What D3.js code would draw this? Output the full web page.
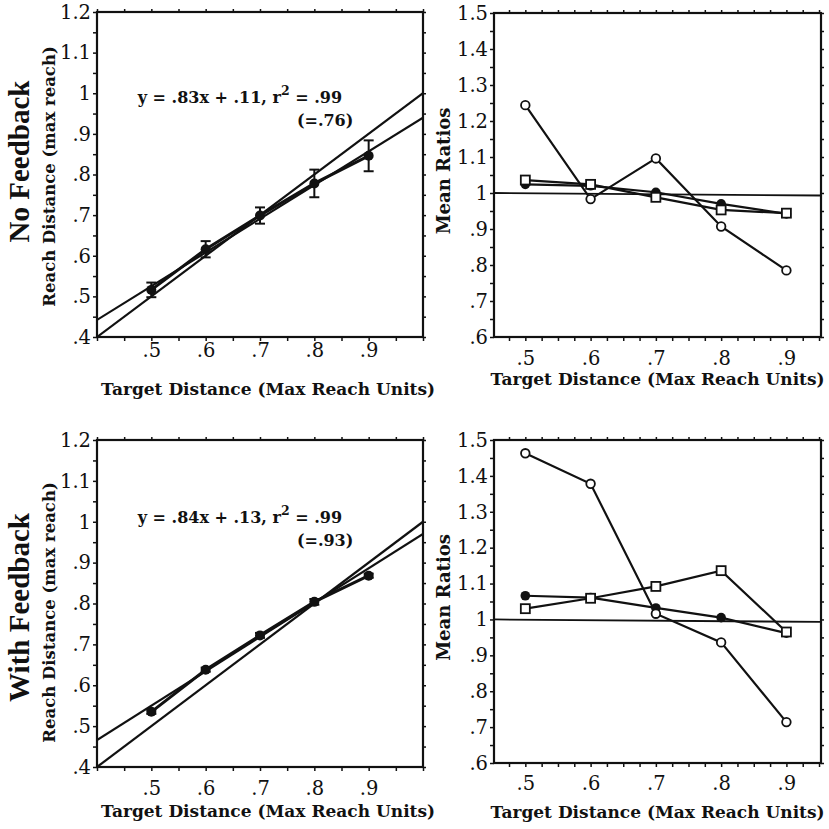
<!DOCTYPE html>
<html>
<head>
<meta charset="utf-8">
<script src="https://cdn.jsdelivr.net/npm/d3@7"></script>
<style>
  body { margin: 0; background: #fff; }
  svg { display: block; }
  text { font-family: "DejaVu Serif", "Liberation Serif", serif; fill: #111; }
</style>
</head>
<body>
<svg width="829" height="829"></svg>
<script>
// target distances (max reach units)
const targets = [0.5, 0.6, 0.7, 0.8, 0.9];

// reach distance, no feedback / with feedback
const reachNoFb = [0.516, 0.616, 0.699, 0.778, 0.846];
const errNoFb   = [0.018, 0.02, 0.02, 0.034, 0.038];
const reachFb   = [0.535, 0.638, 0.722, 0.804, 0.868];
const errFb     = [0.005, 0.005, 0.006, 0.007, 0.005];

// regression fits [slope, intercept]
const fitNoFb = [0.83, 0.11];
const fitFb   = [0.84, 0.13];

// mean ratios
const openNoFb   = [1.244, 0.983, 1.096, 0.907, 0.785];
const filledNoFb = [1.024, 1.02, 1.002, 0.97, 0.942];
const squareNoFb = [1.036, 1.024, 0.988, 0.953, 0.944];
const openFb     = [1.463, 1.378, 1.016, 0.936, 0.714];
const filledFb   = [1.066, 1.061, 1.032, 1.005, 0.962];
const squareFb   = [1.030, 1.059, 1.092, 1.136, 0.965];
const refLine    = [1.0, 0.993];

const fitTicksX = [0.5, 0.6, 0.7, 0.8, 0.9];
const fitTicksY = [0.4, 0.5, 0.6, 0.7, 0.8, 0.9, 1.0, 1.1, 1.2];
const ratioTicksY = [0.6, 0.7, 0.8, 0.9, 1.0, 1.1, 1.2, 1.3, 1.4, 1.5];

const svg = d3.select("svg");
const fmt = d => { let s = d3.format(".1f")(d); if (s.endsWith(".0")) s = s.slice(0, -2); return s.replace(/^0\./, "."); };
const fmt2 = v => d3.format(".2f")(v).replace(/^0\./, ".");
const isMajor = (d, list) => list.some(v => Math.abs(v - d) < 1e-6);

function frameAxes(g, x, y, o) {
  const w = x.range()[1] - x.range()[0], h = y.range()[0] - y.range()[1];
  const minorX = d3.range(Math.ceil(x.domain()[0] / o.stepX - 1e-6), Math.floor(x.domain()[1] / o.stepX + 1e-6) + 1).map(i => i * o.stepX);
  const minorY = d3.range(Math.round(y.domain()[0] / 0.05), Math.round(y.domain()[1] / 0.05) + 1).map(i => i * 0.05);

  g.append("g").attr("transform", `translate(0,${h})`)
    .call(d3.axisBottom(x).tickValues(minorX).tickSize(4).tickPadding(o.padX)
      .tickFormat(d => isMajor(d, o.ticksX) ? fmt(d) : ""));
  g.append("g")
    .call(d3.axisLeft(y).tickValues(minorY).tickSize(4).tickPadding(2)
      .tickFormat(d => isMajor(d, o.ticksY) ? fmt(d) : ""));
  g.append("g").call(d3.axisTop(x).tickValues(minorX).tickSize(3).tickFormat(""));
  g.append("g").attr("transform", `translate(${w},0)`).call(d3.axisRight(y).tickValues(minorY).tickSize(3).tickFormat(""));

  g.selectAll(".domain").remove();
  g.selectAll(".tick line").attr("stroke", "#111").attr("stroke-width", 1.5);
  g.selectAll(".tick text").style("font-size", "19.5px").attr("fill", "#111");

  g.append("rect").attr("width", w).attr("height", h)
    .attr("fill", "none").attr("stroke", "#111").attr("stroke-width", 2.2);

  g.append("text")
    .attr("x", w / 2 + o.titleDx).attr("y", h + o.titleY)
    .attr("text-anchor", "middle").style("font-size", "17px").style("font-weight", "bold")
    .text("Target Distance (Max Reach Units)");
}

function fitPanel(left, top, h, reach, err, fit, label, r2adj, lay) {
  const w = 326;
  const x = d3.scaleLinear().domain([0.4, 1.0]).range([0, w]);
  const y = d3.scaleLinear().domain([0.4, 1.2]).range([h, 0]);
  const g = svg.append("g").attr("transform", `translate(${left},${top})`);
  const clipId = "clip" + top;
  g.append("clipPath").attr("id", clipId).append("rect").attr("width", w).attr("height", h);

  frameAxes(g, x, y, { stepX: 0.05, ticksX: fitTicksX, ticksY: fitTicksY, padX: lay.padX, titleDx: 8, titleY: lay.titleY });

  const line = d3.line().x(d => x(d[0])).y(d => y(d[1]));
  const plot = g.append("g").attr("clip-path", `url(#${clipId})`);
  // identity and regression lines
  plot.append("path").datum([[0.4, 0.4], [1.0, 1.0]]).attr("d", line)
    .attr("fill", "none").attr("stroke", "#111").attr("stroke-width", 2.2);
  plot.append("path").datum([0.4, 1.0].map(v => [v, fit[0] * v + fit[1]])).attr("d", line)
    .attr("fill", "none").attr("stroke", "#111").attr("stroke-width", 2.2);
  // data
  const pts = targets.map((t, i) => [t, reach[i]]);
  plot.append("path").datum(pts).attr("d", line)
    .attr("fill", "none").attr("stroke", "#111").attr("stroke-width", 3);
  const eb = plot.selectAll(".eb").data(targets).enter().append("g");
  eb.append("line").attr("x1", d => x(d)).attr("x2", d => x(d))
    .attr("y1", (d, i) => y(reach[i] - err[i])).attr("y2", (d, i) => y(reach[i] + err[i]))
    .attr("stroke", "#111").attr("stroke-width", 2);
  [-1, 1].forEach(s => eb.append("line")
    .attr("x1", d => x(d) - 5).attr("x2", d => x(d) + 5)
    .attr("y1", (d, i) => y(reach[i] + s * err[i])).attr("y2", (d, i) => y(reach[i] + s * err[i]))
    .attr("stroke", "#111").attr("stroke-width", 2));
  plot.selectAll(".pt").data(pts).enter().append("circle")
    .attr("cx", d => x(d[0])).attr("cy", d => y(d[1])).attr("r", 5).attr("fill", "#111");

  const eq = g.append("text").attr("x", x(0.475)).attr("y", lay.eqY)
    .style("font-size", "16px").style("font-weight", "bold");
  eq.append("tspan").text(`y = ${fmt2(fit[0])}x + ${fmt2(fit[1])}, r`);
  eq.append("tspan").attr("dy", -8).style("font-size", "12.5px").text("2");
  eq.append("tspan").attr("dy", 8).text(" = .99");
  g.append("text").attr("x", x(0.768)).attr("y", lay.eqY + 23)
    .style("font-size", "16px").style("font-weight", "bold").text(`(=${r2adj})`);

  g.append("text").attr("transform", `translate(-42,${h / 2 + lay.subDy}) rotate(-90)`)
    .attr("text-anchor", "middle").style("font-size", "16.5px").style("font-weight", "bold")
    .text("Reach Distance (max reach)");
  g.append("text").attr("transform", `translate(-68,${h / 2 + lay.labelDy}) rotate(-90)`)
    .attr("text-anchor", "middle")
    .style("font-family", "'Liberation Serif', serif")
    .style("font-size", "29px").style("font-weight", "bold")
    .text(label);
}

function ratioPanel(left, top, h, open, filled, square, padX, titleY) {
  const w = 327;
  const x = d3.scaleLinear().domain([0.452, 0.953]).range([0, w]);
  const y = d3.scaleLinear().domain([0.6, 1.5]).range([h, 0]);
  const g = svg.append("g").attr("transform", `translate(${left},${top})`);

  frameAxes(g, x, y, { stepX: 0.025, ticksX: fitTicksX, ticksY: ratioTicksY, padX: padX, titleDx: 0, titleY: titleY });

  const line = d3.line().x(d => x(d[0])).y(d => y(d[1]));
  g.append("path").datum([[x.domain()[0], refLine[0]], [x.domain()[1], refLine[1]]]).attr("d", line)
    .attr("fill", "none").attr("stroke", "#111").attr("stroke-width", 1.8);

  [filled, open, square].forEach(vals => {
    g.append("path").datum(targets.map((t, i) => [t, vals[i]])).attr("d", line)
      .attr("fill", "none").attr("stroke", "#111").attr("stroke-width", 2.2);
  });
  g.selectAll(".f").data(filled).enter().append("circle")
    .attr("cx", (d, i) => x(targets[i])).attr("cy", d => y(d)).attr("r", 4.8).attr("fill", "#111");
  g.selectAll(".o").data(open).enter().append("circle")
    .attr("cx", (d, i) => x(targets[i])).attr("cy", d => y(d)).attr("r", 4.3)
    .attr("fill", "#fff").attr("stroke", "#111").attr("stroke-width", 1.8);
  g.selectAll(".s").data(square).enter().append("rect")
    .attr("x", (d, i) => x(targets[i]) - 4.5).attr("y", d => y(d) - 4.5)
    .attr("width", 9).attr("height", 9)
    .attr("fill", "#fff").attr("stroke", "#111").attr("stroke-width", 1.8);

  g.append("text").attr("transform", `translate(-44,${h / 2 - 4}) rotate(-90)`)
    .attr("text-anchor", "middle").style("font-size", "18px").style("font-weight", "bold")
    .text("Mean Ratios");
}

fitPanel(97, 12, 325, reachNoFb, errNoFb, fitNoFb, "No Feedback", ".76",
  { eqY: 91, titleY: 58, padX: 2, subDy: 2, labelDy: -13 });
fitPanel(97, 440, 327, reachFb, errFb, fitFb, "With Feedback", ".93",
  { eqY: 83, titleY: 50, padX: 10, subDy: 9, labelDy: 4 });
ratioPanel(494, 13, 324, openNoFb, filledNoFb, squareNoFb, 10, 48);
ratioPanel(494, 440, 323, openFb, filledFb, squareFb, 9, 55);
</script>
</body>
</html>
